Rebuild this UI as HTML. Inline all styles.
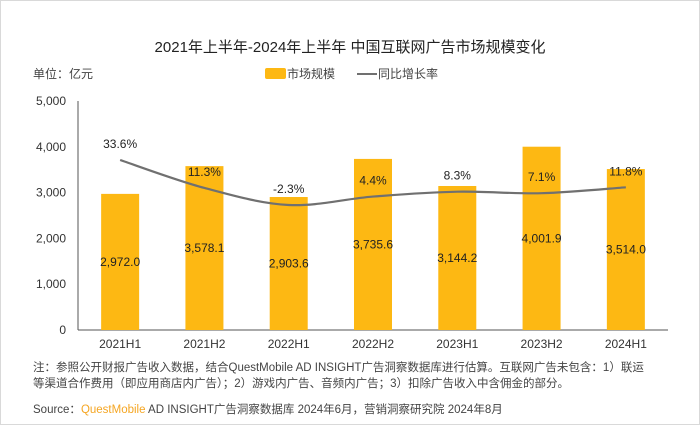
<!DOCTYPE html>
<html><head><meta charset="utf-8"><style>
body{margin:0;width:700px;height:425px;background:#fff;overflow:hidden;font-family:"Liberation Sans","Noto Sans CJK SC",sans-serif;}
.frame{position:absolute;left:0;top:0;width:698px;height:423px;border:1px solid #d9d9d9;}
</style></head><body>
<div class="frame"></div>
<svg id="c" width="700" height="425" style="position:absolute;left:0;top:0">
<text x="350" y="52" text-anchor="middle" font-size="15" fill="#222">2021年上半年-2024年上半年 中国互联网广告市场规模变化</text>
<text x="33" y="78" font-size="12" fill="#444">单位：亿元</text>
<rect x="265" y="68" width="21" height="11" rx="2" fill="#fdb813"/>
<text x="287" y="78" font-size="12" fill="#444">市场规模</text>
<line x1="357" y1="74" x2="377" y2="74" stroke="#707070" stroke-width="2"/>
<text x="378" y="78" font-size="12" fill="#444">同比增长率</text>
<g id="plot"></g>
<text x="33" y="371" font-size="11.5" fill="#444">注：参照公开财报广告收入数据，结合QuestMobile AD INSIGHT广告洞察数据库进行估算。互联网广告未包含：1）联运</text>
<text x="33" y="387" font-size="11.5" fill="#444">等渠道合作费用（即应用商店内广告）；2）游戏内广告、音频内广告；3）扣除广告收入中含佣金的部分。</text>
<text x="33" y="413" font-size="11.5" fill="#444">Source：<tspan fill="#f5a623">QuestMobile</tspan> AD INSIGHT广告洞察数据库 2024年6月，营销洞察研究院 2024年8月</text>
</svg>
<script>
const categories=["2021H1","2021H2","2022H1","2022H2","2023H1","2023H2","2024H1"];
const marketSize=[2972.0,3578.1,2903.6,3735.6,3144.2,4001.9,3514.0];
const growthRate=[33.6,11.3,-2.3,4.4,8.3,7.1,11.8];
const yTicks=[0,1000,2000,3000,4000,5000];
const NS="http://www.w3.org/2000/svg";
const g=document.getElementById('plot');
const x0=78,x1=668,yBase=330,yTop=101;
const step=(x1-x0)/categories.length;
const xc=i=>x0+step*(i+0.5);
const y=v=>yBase-(v/5000)*(yBase-yTop);
const yr=p=>202.1-1.253*p;
function mk(t,a){const e=document.createElementNS(NS,t);for(const k in a)e.setAttribute(k,a[k]);g.appendChild(e);return e;}
yTicks.forEach(t=>{const e=mk('text',{x:66,y:y(t)+4,'text-anchor':'end','font-size':12,fill:'#333'});e.textContent=t.toLocaleString('en-US');

});
const ax=mk('line',{x1:x0,y1:yTop,x2:x0,y2:yBase,stroke:'#555'});


const bx=mk('line',{x1:x0,y1:yBase,x2:x1,y2:yBase,stroke:'#555'});


const bw=38;
marketSize.forEach((v,i)=>{
const r=mk('rect',{x:xc(i)-bw/2,y:y(v),width:bw,height:yBase-y(v),fill:'#fdb813'});


const t=mk('text',{x:xc(i),y:(y(v)+yBase)/2+4,'text-anchor':'middle','font-size':12,fill:'#222'});
t.textContent=v.toLocaleString('en-US',{minimumFractionDigits:1,maximumFractionDigits:1});


const c=mk('text',{x:xc(i),y:yBase+18,'text-anchor':'middle','font-size':12,fill:'#333'});
c.textContent=categories[i];


});
const pts=growthRate.map((p,i)=>[xc(i),yr(p)]);
let d='M'+pts[0][0]+','+pts[0][1];
for(let i=0;i<pts.length-1;i++){const p0=pts[Math.max(i-1,0)],p1=pts[i],p2=pts[i+1],p3=pts[Math.min(i+2,pts.length-1)];
d+=` C${p1[0]+(p2[0]-p0[0])/6},${p1[1]+(p2[1]-p0[1])/6} ${p2[0]-(p3[0]-p1[0])/6},${p2[1]-(p3[1]-p1[1])/6} ${p2[0]},${p2[1]}`;}
const ln=mk('path',{d:d,fill:'none',stroke:'#707070','stroke-width':2.2});


growthRate.forEach((p,i)=>{const t=mk('text',{x:xc(i),y:yr(p)-12,'text-anchor':'middle','font-size':12,fill:'#222'});
t.textContent=p.toFixed(1)+'%';

});
</script>
</body></html>
